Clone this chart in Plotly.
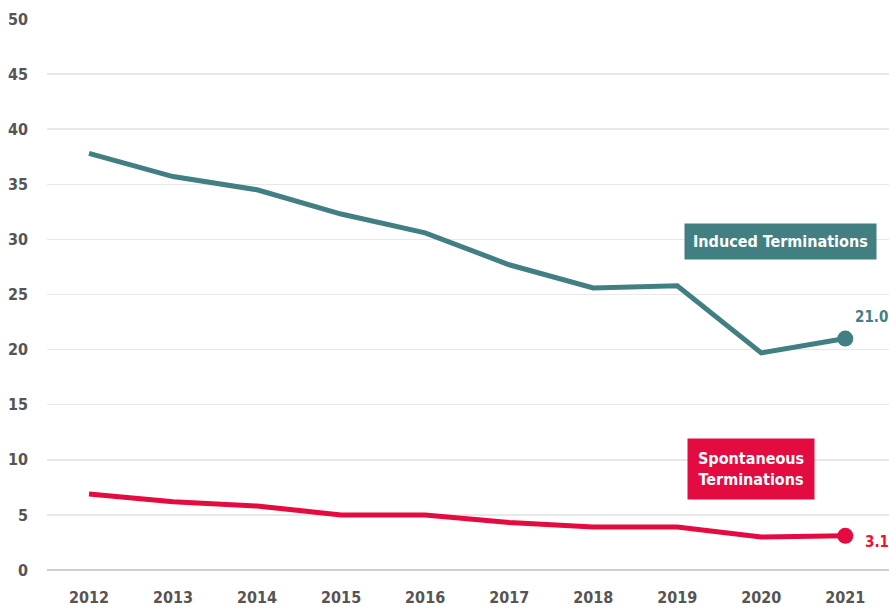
import plotly.graph_objects as go

years = [2012, 2013, 2014, 2015, 2016, 2017, 2018, 2019, 2020, 2021]
induced = [37.8, 35.7, 34.5, 32.3, 30.6, 27.7, 25.6, 25.8, 19.7, 21.0]
spontaneous = [6.9, 6.2, 5.8, 5.0, 5.0, 4.3, 3.9, 3.9, 3.0, 3.1]
y_ticks = [0, 5, 10, 15, 20, 25, 30, 35, 40, 45, 50]

TEAL = "#417F83"
RED = "#E30B40"
LABEL_RED = "#F2102A"
GRAY = "#555555"
FONT = "DejaVu Sans Condensed"

fig = go.Figure()
fig.add_trace(go.Scatter(x=years, y=induced, mode="lines",
                         line=dict(color=TEAL, width=5), hoverinfo="skip"))
fig.add_trace(go.Scatter(x=years, y=spontaneous, mode="lines",
                         line=dict(color=RED, width=5), hoverinfo="skip"))
fig.add_trace(go.Scatter(x=[years[-1]], y=[induced[-1]], mode="markers",
                         marker=dict(color=TEAL, size=16), hoverinfo="skip"))
fig.add_trace(go.Scatter(x=[years[-1]], y=[spontaneous[-1]], mode="markers",
                         marker=dict(color=RED, size=16), hoverinfo="skip"))

fig.add_annotation(x=years[-1], y=induced[-1], text=f"{induced[-1]:.1f}",
                   showarrow=False, xanchor="left", yanchor="middle",
                   xshift=8, yshift=22,
                   font=dict(family=FONT, size=15, color=TEAL, weight="bold"))
fig.add_annotation(x=years[-1], y=spontaneous[-1], text=f"{spontaneous[-1]:.1f}",
                   showarrow=False, xanchor="left", yanchor="middle",
                   xshift=18, yshift=-6,
                   font=dict(family=FONT, size=15, color=LABEL_RED, weight="bold"))

fig.add_annotation(x=2020.23, y=29.8, text="Induced Terminations",
                   showarrow=False, bgcolor=TEAL, borderpad=8,
                   font=dict(family=FONT, size=16, color="white", weight="bold"))
fig.add_annotation(x=2019.88, y=9.14, text="Spontaneous<br>Terminations",
                   showarrow=False, bgcolor=RED, borderpad=10,
                   font=dict(family=FONT, size=16, color="white", weight="bold"))

fig.update_layout(
    width=889, height=609,
    margin=dict(l=47, r=0, t=19, b=39, autoexpand=False),
    paper_bgcolor="white", plot_bgcolor="white",
    showlegend=False,
    font=dict(family=FONT, size=16, color=GRAY, weight="bold"),
    xaxis=dict(range=[2011.5, 2021.52], tickmode="array", tickvals=years,
               ticktext=[str(y) for y in years], showgrid=False,
               zeroline=False, showline=False, ticks="", ticklabelstandoff=16,
               fixedrange=True, automargin=False),
    yaxis=dict(range=[0, 50], tickmode="array", tickvals=y_ticks,
               ticktext=[str(v) for v in y_ticks], showgrid=True,
               gridcolor="#E8E8E8", gridwidth=1.5, zeroline=True,
               zerolinecolor="#CFCFCF", zerolinewidth=2, showline=False,
               ticks="", ticklabelstandoff=18, fixedrange=True, automargin=False),
)

fig.write_html("out.html", config={"displayModeBar": False, "staticPlot": True},
               post_script="document.body.style.margin='0';document.body.style.overflow='hidden';")
